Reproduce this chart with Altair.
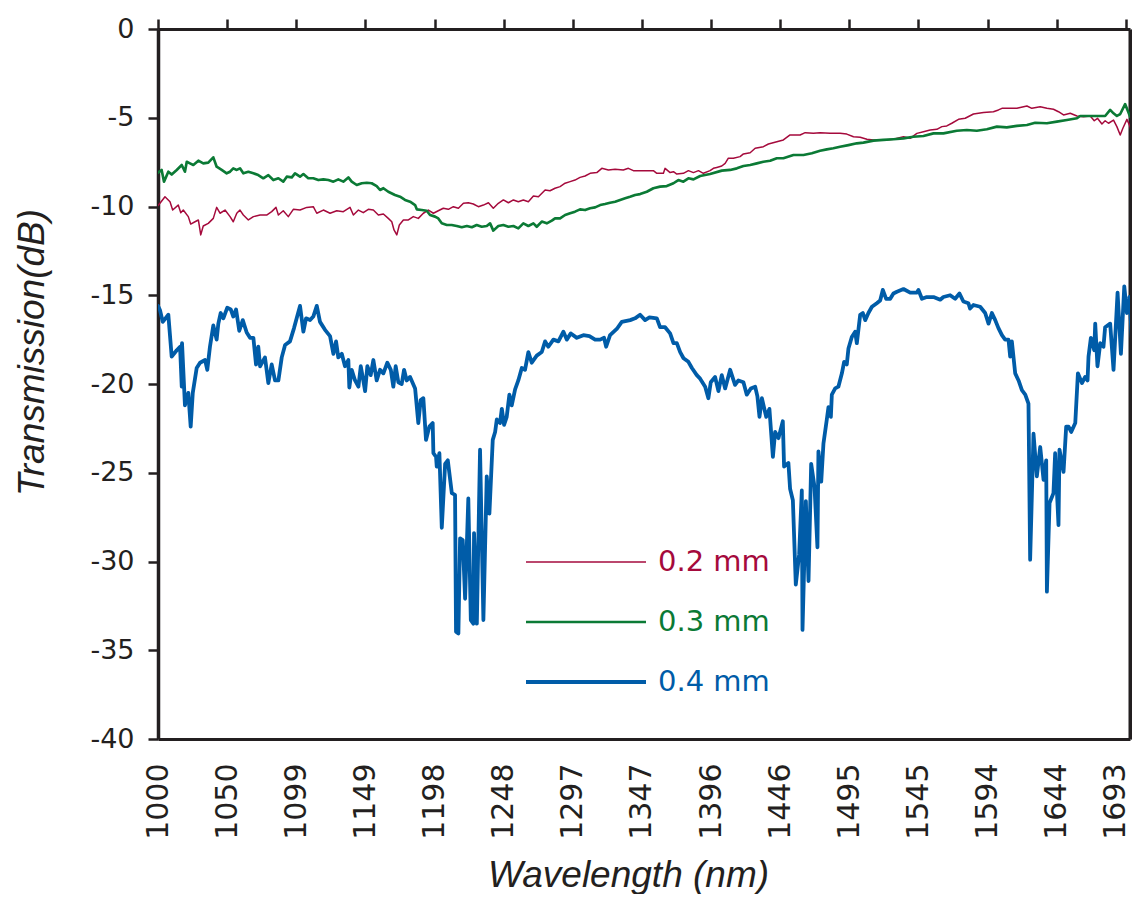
import altair as alt
import pandas as pd

# ---------------- data ----------------
series_names = ["0.2 mm", "0.3 mm", "0.4 mm"]
series_colors = ["#a50a3c", "#0b7a35", "#005ca8"]
series_widths = [1.5, 3.8]

wl_02 = [
    1000.0, 1001.4, 1005.0, 1008.6, 1010.5, 1014.5, 1016.3, 1018.1, 1021.7, 1023.4,
    1026.5, 1028.9, 1030.6, 1032.4, 1036.0, 1039.6, 1042.0, 1044.4, 1048.0, 1051.6,
    1053.9, 1056.4, 1058.7, 1061.1, 1064.7, 1068.3, 1073.1, 1077.8, 1081.4, 1084.5,
    1086.2, 1089.7, 1093.3, 1096.9, 1101.7, 1106.5, 1111.2, 1113.7, 1118.4, 1123.2,
    1128.0, 1132.7, 1137.5, 1139.9, 1143.5, 1147.0, 1150.6, 1154.2, 1157.8, 1161.4,
    1164.9, 1167.4, 1169.0, 1171.0, 1172.8, 1175.7, 1179.3, 1182.8, 1186.4, 1190.0,
    1193.6, 1197.2, 1200.7, 1204.3, 1207.9, 1211.5, 1215.1, 1218.7, 1222.2, 1225.8,
    1229.4, 1233.0, 1236.6, 1240.1, 1243.7, 1247.3, 1250.9, 1254.5, 1258.0, 1261.6,
    1265.2, 1268.8, 1272.4, 1277.2, 1280.7, 1284.3, 1287.9, 1291.5, 1295.1, 1298.6,
    1302.2, 1305.8, 1309.4, 1314.2, 1317.8, 1322.5, 1327.3, 1333.2, 1336.8, 1340.4,
    1345.2, 1354.7, 1357.2, 1361.9, 1363.1, 1366.7, 1369.1, 1371.5, 1376.2, 1379.8,
    1383.4, 1387.0, 1390.5, 1395.3, 1397.7, 1400.1, 1403.7, 1406.1, 1408.4, 1412.0,
    1416.8, 1419.2, 1424.0, 1427.6, 1433.5, 1437.1, 1443.1, 1447.8, 1452.6, 1459.8,
    1463.4, 1469.3, 1474.1, 1481.3, 1488.4, 1493.2, 1498.0, 1502.8, 1507.6, 1512.3,
    1519.4, 1526.6, 1533.8, 1538.6, 1543.4, 1548.1, 1552.9, 1557.7, 1561.3, 1564.8,
    1568.4, 1573.2, 1578.0, 1583.9, 1591.1, 1598.2, 1601.8, 1604.3, 1610.2, 1615.0,
    1622.2, 1625.7, 1631.7, 1636.5, 1641.2, 1644.8, 1648.4, 1653.2, 1658.0, 1662.7,
    1667.5, 1670.4, 1672.7, 1675.9, 1678.2, 1680.6, 1684.2, 1686.6, 1689.0, 1690.9,
    1693.8, 1696.1, 1698.1, 1699.7,
]
tr_02 = [
    -9.95, -9.82, -9.45, -9.73, -10.2, -9.92, -10.35, -10.2, -10.57, -10.99,
    -10.86, -10.76, -11.6, -11.1, -10.95, -10.67, -10.05, -10.38, -10.2, -10.57,
    -10.86, -10.38, -10.2, -10.48, -10.76, -10.57, -10.48, -10.48, -10.29, -10.05,
    -10.48, -10.24, -10.57, -10.16, -10.2, -10.05, -10.01, -10.38, -10.2, -10.38,
    -10.24, -10.29, -10.05, -10.48, -10.2, -10.35, -10.16, -10.2, -10.48, -10.42,
    -10.67, -10.86, -11.32, -11.6, -11.04, -10.76, -10.76, -10.57, -10.67, -10.38,
    -10.2, -10.38, -10.24, -10.1, -10.16, -10.01, -10.1, -9.82, -9.79, -9.86,
    -10.01, -9.92, -9.79, -10.1, -9.82, -9.63, -9.79, -9.63, -9.73, -9.63,
    -9.73, -9.41, -9.45, -9.07, -9.11, -8.97, -8.88, -8.69, -8.6, -8.51,
    -8.36, -8.28, -8.13, -8.09, -7.85, -7.94, -7.9, -7.94, -7.85, -7.98,
    -7.98, -7.98, -8.13, -8.13, -7.85, -8.09, -8.04, -8.17, -8.13, -7.98,
    -8.09, -7.98, -8.13, -7.98, -7.85, -7.8, -7.72, -7.57, -7.28, -7.28,
    -7.19, -7.04, -6.97, -6.72, -6.63, -6.48, -6.35, -6.25, -5.97, -5.97,
    -5.84, -5.88, -5.84, -5.88, -5.88, -5.92, -6.07, -6.1, -6.21, -6.25,
    -6.25, -6.21, -6.07, -6.16, -5.88, -5.79, -5.69, -5.65, -5.5, -5.46,
    -5.31, -5.09, -5.03, -4.79, -4.71, -4.66, -4.56, -4.47, -4.47, -4.47,
    -4.34, -4.47, -4.38, -4.47, -4.52, -4.66, -4.84, -4.75, -4.9, -4.94,
    -4.9, -5.17, -5.03, -5.35, -5.17, -5.31, -5.13, -5.5, -5.97, -5.59,
    -5.09, -5.5, -6.25, -5.88,
]

wl_03 = [
    1000.0, 1002.6, 1004.3, 1007.4, 1009.8, 1013.4, 1017.0, 1019.3, 1020.6, 1022.9,
    1025.3, 1028.9, 1032.4, 1036.0, 1039.6, 1042.0, 1045.6, 1049.2, 1051.6, 1053.9,
    1056.4, 1058.7, 1061.1, 1064.7, 1068.3, 1071.8, 1075.4, 1079.0, 1082.6, 1086.2,
    1089.7, 1092.2, 1095.8, 1098.1, 1101.7, 1104.1, 1107.6, 1111.2, 1114.8, 1118.4,
    1122.0, 1125.6, 1129.1, 1132.7, 1136.3, 1138.7, 1142.3, 1145.9, 1149.5, 1153.0,
    1156.6, 1159.0, 1161.4, 1164.9, 1169.7, 1173.3, 1176.9, 1180.5, 1184.1, 1185.3,
    1188.9, 1192.4, 1194.8, 1198.4, 1200.7, 1203.2, 1206.8, 1210.3, 1213.9, 1217.5,
    1221.1, 1224.7, 1228.2, 1231.8, 1235.4, 1237.8, 1240.1, 1243.7, 1247.3, 1250.9,
    1254.5, 1258.0, 1261.6, 1265.2, 1268.8, 1271.2, 1274.8, 1278.4, 1282.0, 1284.3,
    1287.9, 1291.5, 1295.1, 1298.6, 1302.2, 1305.8, 1309.4, 1313.0, 1316.6, 1320.1,
    1323.7, 1327.3, 1330.9, 1334.5, 1338.0, 1341.6, 1345.2, 1350.0, 1354.7, 1359.5,
    1364.3, 1369.1, 1372.6, 1376.2, 1379.8, 1383.4, 1388.2, 1395.3, 1403.7, 1409.7,
    1414.5, 1419.2, 1424.0, 1428.8, 1433.5, 1438.3, 1443.1, 1447.8, 1455.0, 1462.2,
    1468.2, 1474.1, 1478.9, 1483.6, 1488.4, 1494.4, 1500.4, 1505.1, 1512.3, 1519.4,
    1526.6, 1533.8, 1540.9, 1548.1, 1555.3, 1562.4, 1572.0, 1579.2, 1586.3, 1593.5,
    1600.7, 1607.8, 1615.0, 1622.2, 1628.1, 1636.5, 1643.6, 1650.8, 1658.0, 1660.3,
    1665.1, 1672.3, 1678.2, 1681.8, 1684.2, 1686.6, 1689.0, 1692.5, 1694.2, 1696.1,
    1698.5, 1700.0,
]
tr_03 = [
    -8.1, -7.94, -8.6, -8.04, -8.2, -7.94, -7.66, -8.04, -7.48, -7.57,
    -7.66, -7.42, -7.57, -7.53, -7.23, -7.76, -7.94, -8.13, -8.04, -7.85,
    -7.94, -7.85, -8.13, -8.04, -8.13, -8.23, -8.41, -8.23, -8.51, -8.41,
    -8.6, -8.32, -8.36, -8.13, -8.32, -8.17, -8.41, -8.41, -8.51, -8.47,
    -8.51, -8.6, -8.47, -8.6, -8.36, -8.6, -8.79, -8.69, -8.66, -8.69,
    -8.85, -9.07, -8.97, -9.17, -9.35, -9.45, -9.63, -9.73, -9.92, -10.16,
    -10.2, -10.24, -10.48, -10.57, -10.67, -10.95, -11.04, -11.04, -11.1, -11.17,
    -11.1, -11.17, -11.04, -11.14, -11.1, -10.95, -11.36, -11.1, -11.04, -11.14,
    -11.1, -11.23, -10.95, -11.1, -10.95, -11.14, -10.85, -10.95, -10.8, -10.67,
    -10.67, -10.48, -10.38, -10.29, -10.16, -10.2, -10.1, -10.05, -9.92, -9.86,
    -9.79, -9.73, -9.63, -9.54, -9.45, -9.35, -9.3, -9.17, -8.97, -8.88,
    -8.85, -8.69, -8.51, -8.6, -8.41, -8.47, -8.28, -8.17, -7.98, -7.94,
    -7.85, -7.72, -7.66, -7.57, -7.48, -7.42, -7.28, -7.28, -7.1, -7.1,
    -7.0, -6.86, -6.78, -6.72, -6.63, -6.54, -6.44, -6.4, -6.29, -6.25,
    -6.21, -6.16, -6.07, -6.03, -5.88, -5.88, -5.73, -5.69, -5.73, -5.65,
    -5.5, -5.54, -5.46, -5.41, -5.28, -5.31, -5.22, -5.13, -5.03, -4.9,
    -4.9, -4.9, -4.9, -4.56, -4.75, -4.9, -4.79, -4.23, -4.56, -4.94,
    -4.71, -4.9,
]

wl_04 = [
    1000.0, 1001.4, 1003.4, 1007.4, 1009.8, 1013.4, 1015.8, 1017.0, 1017.2, 1019.3,
    1021.7, 1023.4, 1024.9, 1027.7, 1030.1, 1033.7, 1035.3, 1037.2, 1039.6, 1042.0,
    1043.2, 1044.9, 1046.8, 1049.6, 1052.1, 1053.9, 1055.9, 1058.2, 1060.7, 1063.5,
    1065.9, 1068.3, 1070.2, 1071.8, 1073.1, 1076.6, 1079.0, 1081.4, 1083.8, 1086.2,
    1088.6, 1091.0, 1094.5, 1097.4, 1099.3, 1101.7, 1104.1, 1106.0, 1108.9, 1111.2,
    1113.7, 1116.0, 1119.6, 1123.2, 1125.6, 1127.5, 1129.1, 1131.6, 1133.9, 1136.3,
    1137.0, 1138.7, 1141.1, 1143.5, 1145.2, 1147.0, 1148.3, 1149.9, 1152.3, 1154.2,
    1156.6, 1159.0, 1161.4, 1164.2, 1166.7, 1168.5, 1170.2, 1172.1, 1174.5, 1176.2,
    1178.1, 1180.5, 1184.1, 1186.4, 1188.1, 1190.0, 1191.9, 1194.3, 1196.7, 1197.2,
    1199.1, 1199.6, 1201.5, 1203.2, 1205.6, 1207.5, 1210.4, 1212.7, 1213.4, 1215.1,
    1216.3, 1218.2, 1219.9, 1222.2, 1224.0, 1225.8, 1226.3, 1228.3, 1230.6, 1233.0,
    1235.4, 1237.3, 1239.7, 1241.4, 1242.6, 1244.9, 1246.2, 1247.8, 1249.7, 1251.6,
    1253.3, 1255.7, 1258.0, 1260.5, 1262.8, 1265.2, 1267.6, 1271.2, 1274.8, 1277.2,
    1279.5, 1283.1, 1286.7, 1290.3, 1292.7, 1295.6, 1299.9, 1304.6, 1308.9, 1313.0,
    1316.6, 1319.4, 1320.9, 1323.7, 1328.5, 1332.1, 1338.1, 1341.6, 1345.2, 1348.8,
    1351.9, 1357.2, 1359.5, 1363.1, 1366.7, 1369.1, 1371.5, 1373.9, 1376.3, 1379.8,
    1382.3, 1385.8, 1388.2, 1391.8, 1394.1, 1395.8, 1398.9, 1401.3, 1403.7, 1406.1,
    1409.7, 1413.2, 1415.6, 1419.2, 1421.6, 1424.5, 1427.6, 1429.2, 1430.7, 1432.4,
    1435.5, 1437.8, 1440.3, 1441.9, 1444.3, 1447.4, 1448.3, 1451.4, 1452.6, 1454.6,
    1456.7, 1459.1, 1461.0, 1461.5, 1463.9, 1465.8, 1467.7, 1470.1, 1472.2, 1472.9,
    1474.9, 1476.5, 1478.9, 1480.1, 1481.8, 1482.5, 1484.9, 1487.2, 1489.7, 1491.3,
    1493.2, 1494.4, 1496.8, 1499.2, 1500.4, 1502.8, 1504.7, 1506.4, 1508.7, 1511.2,
    1514.7, 1517.1, 1519.0, 1521.4, 1524.3, 1526.6, 1529.1, 1533.8, 1538.6, 1543.4,
    1544.5, 1547.0, 1550.5, 1555.3, 1560.1, 1562.4, 1567.2, 1570.8, 1573.9, 1576.7,
    1580.3, 1581.5, 1583.9, 1588.7, 1592.3, 1594.7, 1597.1, 1599.5, 1601.8, 1604.3,
    1606.6, 1609.0, 1610.2, 1611.4, 1613.8, 1616.2, 1618.6, 1621.0, 1623.3, 1624.5,
    1626.9, 1629.3, 1631.7, 1634.1, 1636.0, 1636.5, 1638.4, 1641.2, 1642.4, 1644.8,
    1645.5, 1648.4, 1650.3, 1652.0, 1653.9, 1656.8, 1658.7, 1661.6, 1663.9, 1665.6,
    1666.3, 1668.0, 1670.4, 1671.1, 1672.7, 1674.7, 1677.0, 1678.2, 1681.8, 1684.2,
    1687.1, 1689.5, 1691.9, 1693.8, 1695.6, 1698.1, 1699.7,
]
tr_04 = [
    -15.6, -15.83, -16.5, -16.1, -18.46, -18.1, -17.9, -20.15, -17.7, -21.2,
    -20.5, -22.4, -20.5, -19.1, -18.8, -18.65, -19.2, -17.9, -16.7, -17.5,
    -16.6, -16.0, -16.3, -15.7, -15.8, -16.2, -15.8, -17.0, -16.4, -17.1,
    -17.4, -17.4, -18.9, -17.9, -19.0, -18.5, -19.95, -18.9, -19.8, -19.8,
    -18.5, -17.8, -17.6, -16.85, -16.3, -15.6, -17.05, -16.3, -16.4, -16.2,
    -15.6, -16.5, -16.95, -17.3, -18.3, -17.6, -18.5, -18.3, -19.0, -18.65,
    -20.2, -19.2, -19.8, -20.15, -19.0, -19.8, -20.4, -19.0, -19.5, -18.65,
    -19.8, -19.2, -19.4, -18.8, -19.2, -20.15, -19.0, -19.9, -20.0, -19.2,
    -19.8, -19.6, -20.25, -22.2, -20.9, -20.8, -23.15, -22.4, -22.2, -23.9,
    -24.1, -24.65, -23.9, -28.1, -24.5, -24.3, -26.15, -26.25, -33.95, -34.05,
    -28.7, -28.8, -32.1, -26.45, -33.3, -33.5, -28.4, -33.5, -23.7, -33.3,
    -25.2, -27.3, -23.15, -22.7, -22.0, -22.2, -21.4, -22.3, -21.85, -20.6,
    -21.2, -20.3, -19.8, -19.1, -19.2, -18.2, -18.8, -18.4, -18.2, -17.6,
    -17.9, -17.5, -17.6, -17.05, -17.5, -17.15, -17.4, -17.25, -17.3, -17.5,
    -17.5, -17.4, -17.9, -17.25, -16.9, -16.5, -16.4, -16.3, -16.1, -16.4,
    -16.25, -16.3, -16.8, -16.8, -17.15, -17.7, -17.7, -18.2, -18.55, -18.75,
    -19.1, -19.5, -19.7, -20.15, -20.8, -19.9, -19.6, -20.4, -19.5, -20.25,
    -19.2, -20.05, -19.8, -19.9, -20.6, -20.25, -20.15, -20.7, -21.85, -20.8,
    -21.85, -21.4, -24.1, -22.7, -23.05, -22.1, -24.65, -24.45, -25.9, -26.55,
    -31.3, -29.6, -26.0, -33.85, -26.6, -31.1, -24.5, -25.8, -29.2, -23.8,
    -25.5, -23.35, -22.0, -21.3, -21.85, -20.6, -20.25, -20.15, -19.4, -18.75,
    -18.9, -18.0, -17.35, -17.05, -17.7, -16.1, -16.0, -16.4, -16.0, -15.65,
    -15.45, -15.3, -14.7, -15.2, -15.2, -14.9, -14.8, -14.65, -14.85, -14.85,
    -14.7, -15.2, -15.1, -15.1, -15.25, -15.1, -15.0, -15.2, -14.9, -15.35,
    -15.45, -15.75, -15.55, -15.65, -16.0, -16.6, -16.0, -16.4, -16.85, -17.25,
    -17.5, -17.5, -18.45, -17.6, -19.4, -19.8, -20.35, -20.6, -21.1, -29.9,
    -22.8, -25.2, -23.55, -25.4, -24.3, -31.7, -26.7, -26.15, -23.9, -27.95,
    -23.7, -24.95, -22.4, -22.4, -22.7, -22.2, -19.4, -19.95, -19.6, -19.8,
    -18.45, -17.4, -18.1, -16.6, -19.0, -17.7, -17.9, -16.8, -16.6, -19.2,
    -14.85, -18.3, -14.5, -16.0, -15.1, -18.45, -16.4,
]

x_tick_values = [1000, 1049.5, 1099, 1148.5, 1198, 1247.5, 1297, 1346.5,
                 1396, 1445.5, 1495, 1544.5, 1594, 1643.5, 1693]
y_tick_values = [0, -5, -10, -15, -20, -25, -30, -35, -40]
y_minor_ticks = [-40 + 0.5 * i for i in range(81)]

# ---------------- table ----------------
rows = []
for name, wl, tr in [(series_names[0], wl_02, tr_02),
                     (series_names[1], wl_03, tr_03),
                     (series_names[2], wl_04, tr_04)]:
    for w, t in zip(wl, tr):
        rows.append({"series": name, "wavelength": w, "transmission": t})
df = pd.DataFrame(rows)

ink = "#231f20"
label_font = "DejaVu Sans"
title_font = "Liberation Sans"

x_scale = alt.Scale(domain=[1000, 1696], nice=False, zero=False)
y_scale = alt.Scale(domain=[-40, 0], nice=False, zero=False)

legend = alt.Legend(
    title=None, orient="none", legendX=366, legendY=518,
    symbolType="stroke", symbolSize=14400, symbolOffset=0, padding=0,
    labelFont=label_font, labelFontSize=29, labelOffset=10, labelLimit=400,
    labelColor={"expr": "scale('color', datum.value)"},
    clipHeight=30, rowPadding=30,
)

last_tick = x_tick_values[-1]
x_axis = alt.Axis(
    orient="bottom", values=x_tick_values, format=".0f", grid=False,
    ticks=False, tickSize=0, labelAngle=270, labelFont=label_font,
    labelFontSize=30, labelPadding=24, labelColor=ink, labelOverlap=False,
    labelFlush=False, domainColor=ink, domainWidth=3,
    labelOffset={"condition": {"test": f"datum.value == {last_tick}", "value": -10}, "value": 0},
    title="Wavelength (nm)", titleFont=title_font, titleFontStyle="italic",
    titleFontWeight="normal", titleFontSize=37, titleColor=ink,
    titleX=470, titleY=147, titleAlign="center", titleBaseline="alphabetic",
)
y_axis = alt.Axis(
    orient="left", values=y_tick_values, labelExpr="'' + datum.value",
    grid=False, tickSize=10, tickWidth=2.5, tickColor=ink,
    labelFont=label_font, labelFontSize=27, labelPadding=14, labelColor=ink,
    domainColor=ink, domainWidth=3.5, labelOverlap=False,
    title="Transmission(dB)", titleFont=title_font, titleFontStyle="italic",
    titleFontWeight="normal", titleFontSize=37, titleColor=ink,
    titleAngle=270, titleX=-126, titleY=323, titleAlign="center",
    titleBaseline="middle",
)

lines = alt.Chart(df).mark_line(strokeJoin="round", strokeCap="round", clip=True).encode(
    x=alt.X("wavelength:Q", scale=x_scale, axis=x_axis),
    y=alt.Y("transmission:Q", scale=y_scale, axis=y_axis),
    color=alt.Color("series:N", scale=alt.Scale(domain=series_names, range=series_colors),
                    legend=legend),
    strokeWidth=alt.StrokeWidth("series:N",
                                scale=alt.Scale(domain=series_names, range=series_widths, padding=0),
                                legend=legend),
)

frame = alt.Chart(df).mark_point(opacity=0, size=1, clip=True).encode(
    x=alt.X("wavelength:Q", scale=x_scale,
            axis=alt.Axis(orient="top", values=x_tick_values, labels=False, grid=False,
                          tickSize=10, tickWidth=2.5, tickColor=ink,
                          domainColor=ink, domainWidth=3, title=None)),
    y=alt.Y("transmission:Q", scale=y_scale,
            axis=alt.Axis(orient="right", values=y_minor_ticks, labels=False, grid=False,
                          tickSize=2, tickWidth=1, tickColor="#cfcfcf",
                          domainColor=ink, domainWidth=4, title=None)),
)

chart = alt.layer(lines, frame).properties(
    width=972, height=710,
    autosize=alt.AutoSizeParams(type="none"),
    padding={"left": 150, "top": 21, "right": 2, "bottom": 155},
).configure_view(stroke=None).configure(background="white")

chart.save("out.html", embed_options={"renderer": "svg", "actions": False})
